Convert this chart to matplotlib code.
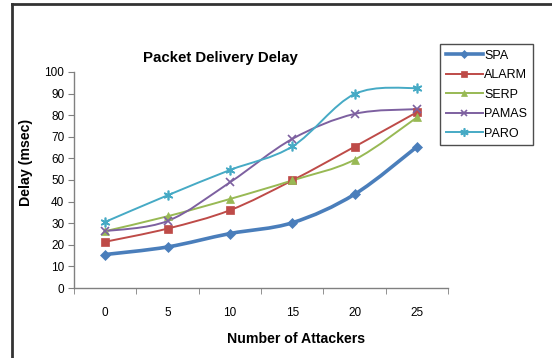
import matplotlib
matplotlib.use("Agg")
import matplotlib.pyplot as plt
import numpy as np
from matplotlib.path import Path
from matplotlib.patches import PathPatch
from matplotlib.lines import Line2D

plt.rcParams['font.family'] = ['Liberation Sans', 'DejaVu Sans']

attackers = ['0', '5', '10', '15', '20', '25']
spa = [15.5, 19, 25.2, 30.2, 43.4, 65.4]
alarm = [21.4, 27.5, 36, 49.8, 65.4, 81.4]
serp = [26.3, 33.2, 41.2, 49.8, 59.4, 79]
pamas = [26.3, 31, 48.9, 69, 80.6, 82.8]
paro = [30.6, 42.9, 54.6, 65.5, 89.8, 92.6]

series = [
    ('SPA', spa, '#4A7EBB', 'D', 2.6, 5),
    ('ALARM', alarm, '#BE4B48', 's', 1.4, 6),
    ('SERP', serp, '#98B954', '^', 1.4, 6),
    ('PAMAS', pamas, '#7D60A0', 'x', 1.4, 6),
    ('PARO', paro, '#46AAC5', (6, 2, 0), 1.4, 7),
]


def smooth_path(xs, ys):
    # catmull-rom segments as cubic bezier curves
    pts = np.column_stack([xs, ys]).astype(float)
    ext = np.vstack([pts[0], pts, pts[-1]])
    verts = [pts[0]]
    codes = [Path.MOVETO]
    for i in range(len(pts) - 1):
        p0, p1, p2, p3 = ext[i], ext[i + 1], ext[i + 2], ext[i + 3]
        c1 = p1 + (p2 - p0) / 6.0
        c2 = p2 - (p3 - p1) / 6.0
        verts += [c1, c2, p2]
        codes += [Path.CURVE4] * 3
    return Path(verts, codes)


fig = plt.figure(figsize=(5.52, 3.58), dpi=100)
ax = fig.add_axes([0.134, 0.1955, 0.678, 0.6035])

x = np.arange(len(attackers))
handles = []
for name, vals, color, marker, lw, ms in series:
    ax.add_patch(PathPatch(smooth_path(x, vals), fill=False, edgecolor=color,
                           lw=lw, capstyle='round', joinstyle='round', zorder=2))
    mew = 1.2 if marker in ('x',) or isinstance(marker, tuple) else 0.5
    ax.plot(x, vals, linestyle='none', marker=marker, color=color, ms=ms,
            mew=mew, zorder=3)
    handles.append(Line2D([], [], color=color, lw=lw, marker=marker, ms=ms - 1,
                          mew=mew, label=name))

ax.set_xlim(-0.5, 5.5)
ax.set_ylim(0, 100)
ax.set_yticks(range(0, 101, 10))
ax.set_xticks(x)
ax.set_xticklabels(attackers)
ax.set_xticks(np.arange(-0.5, 6, 1), minor=True)
ax.tick_params(axis='x', which='major', length=0, pad=14, labelsize=8.5)
ax.tick_params(axis='x', which='minor', length=4, color='#808080', direction='out')
ax.tick_params(axis='y', length=4, color='#808080', labelsize=8.5, pad=3)
for side in ('top', 'right'):
    ax.spines[side].set_visible(False)
for side in ('left', 'bottom'):
    ax.spines[side].set_color('#808080')
    ax.spines[side].set_linewidth(1.0)

ax.set_xlabel('Number of Attackers', fontsize=10.2, fontweight='bold')
ax.xaxis.set_label_coords(0.594, -0.205)
ax.set_ylabel('Delay (msec)', fontsize=10.2, fontweight='bold')
ax.yaxis.set_label_coords(-0.11, 0.583)
fig.text(0.399, 0.838, 'Packet Delivery Delay', ha='center', va='center',
         fontsize=10.8, fontweight='bold')

leg = fig.legend(handles=handles, loc='upper left', bbox_to_anchor=(0.797, 0.877),
                 fontsize=9, frameon=True, fancybox=False, handlelength=3.0,
                 handletextpad=0.1, borderpad=0.45, labelspacing=0.6,
                 borderaxespad=0)
leg.get_frame().set_edgecolor('#222222')
leg.get_frame().set_linewidth(1.0)

# outer border lines of the chart area
fig.add_artist(Line2D([0.021, 0.021], [0.0, 0.989], color='#333333', lw=2,
                      transform=fig.transFigure))
fig.add_artist(Line2D([0.021, 1.0], [0.989, 0.989], color='#333333', lw=2,
                      transform=fig.transFigure))

fig.savefig('out.png', dpi=100)
